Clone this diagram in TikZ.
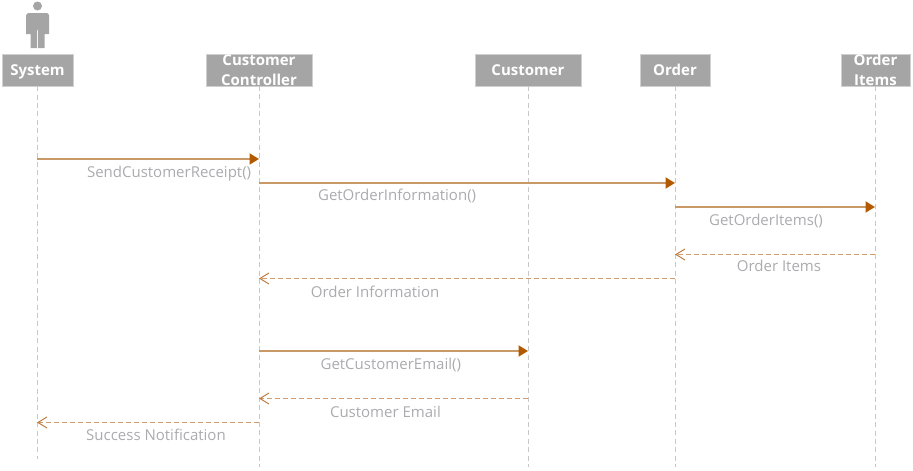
\documentclass[tikz,border=0pt]{standalone}
\usepackage{fontspec}
\setmainfont{Open Sans}
\usetikzlibrary{arrows.meta}
\definecolor{boxgray}{HTML}{A5A5A5}
\definecolor{boxedge}{HTML}{D0D0D0}
\definecolor{lifegray}{HTML}{C8C8C8}
\definecolor{textgray}{HTML}{ABABAF}
\definecolor{msgline}{HTML}{C99A68}
\definecolor{msgtip}{HTML}{B35A00}
\definecolor{msgdash}{HTML}{D19D6C}
\definecolor{msgbarb}{HTML}{C07C40}
\tikzset{
    objbox/.style={draw=boxedge, fill=boxgray, text=white, inner sep=0pt, minimum height=32pt,
        align=center, font=\fontsize{15}{19.5}\selectfont\bfseries},
    oneline/.style={text height=10pt, text depth=0pt},
    lifeline/.style={draw=lifegray, line width=1pt, dash pattern=on 5pt off 3.4pt},
    callmsg/.style={draw=msgline, line width=2pt, -{Triangle[length=9.5pt,width=11pt,color=msgtip]}},
    returnmsg/.style={draw=msgdash, line width=1pt, dash pattern=on 5pt off 3pt,
        -{Straight Barb[length=9pt,width=11pt,color=msgbarb,line width=1pt]}},
    msglabel/.style={text=textgray, anchor=base, yshift=-18pt, inner sep=0pt,
        font=\fontsize{15}{16}\selectfont},
}
\begin{document}
\begin{tikzpicture}[x=1pt, y=1pt]
            \useasboundingbox (0, 0) rectangle (913, -471);

            % Actor
            \fill[boxgray] (37.5, -6) circle (4.5);
            \fill[boxgray] (26, -15) -- (28, -13) -- (47, -13) -- (49, -15) -- (49, -34) -- (44.7, -34)
                -- (44.7, -48) -- (38, -48) -- (38, -30) -- (37, -30) -- (37, -48) -- (30.7, -48)
                -- (30.7, -34) -- (26, -34) -- cycle;

            % Nodes
            \node[objbox, oneline, minimum width=71pt] (System) at (37.5, -70) {System};
            \node[objbox, minimum width=106pt] (CustomerController) at (259, -70) {Customer\\Controller};
            \node[objbox, oneline, minimum width=106pt] (Customer) at (528, -70) {Customer};
            \node[objbox, oneline, minimum width=70pt] (Order) at (675, -70) {Order};
            \node[objbox, minimum width=69pt] (OrderItems) at (875.5, -70) {Order\\Items};

            % Lifeline ends
            \coordinate (SystemEnd) at (37, -459);
            \coordinate (CustomerControllerEnd) at (259, -467);
            \coordinate (CustomerEnd) at (528, -467);
            \coordinate (OrderEnd) at (675, -467);
            \coordinate (OrderItemsEnd) at (875, -467);

            % Lifelines
            \draw[lifeline] (System.south -| SystemEnd) -- (SystemEnd);
            \draw[lifeline] (CustomerController) ++(0, -16) -- (CustomerControllerEnd);
            \draw[lifeline] (Customer) ++(0, -16) -- (CustomerEnd);
            \draw[lifeline] (Order) ++(0, -16) -- (OrderEnd);
            \draw[lifeline] (OrderItems.south -| OrderItemsEnd) -- (OrderItemsEnd);

            % Message ends
            \coordinate (SendFrom) at (37, -159);
            \coordinate (SendTo) at (259, -159);
            \coordinate (InfoFrom) at (259, -183);
            \coordinate (InfoTo) at (675, -183);
            \coordinate (ItemsFrom) at (675, -207);
            \coordinate (ItemsTo) at (875, -207);
            \coordinate (ItemsBackFrom) at (875, -254.5);
            \coordinate (ItemsBackTo) at (675, -254.5);
            \coordinate (InfoBackFrom) at (675, -278.5);
            \coordinate (InfoBackTo) at (259, -278.5);
            \coordinate (EmailFrom) at (259, -351);
            \coordinate (EmailTo) at (528, -351);
            \coordinate (EmailBackFrom) at (528, -398.5);
            \coordinate (EmailBackTo) at (259, -398.5);
            \coordinate (DoneFrom) at (259, -422.5);
            \coordinate (DoneTo) at (37, -422.5);

            % Arrows
            \draw[callmsg] (SendFrom) -- node[msglabel, pos=0.595] {SendCustomerReceipt()} (SendTo);
            \draw[callmsg] (InfoFrom) -- node[msglabel, pos=0.332, yshift=1pt] {GetOrderInformation()} (InfoTo);
            \draw[callmsg] (ItemsFrom) -- node[msglabel, pos=0.455] {GetOrderItems()} (ItemsTo);
            \draw[returnmsg] (ItemsBackFrom) -- node[msglabel, pos=0.48, yshift=1pt] {Order Items} (ItemsBackTo);
            \draw[returnmsg] (InfoBackFrom) -- node[msglabel, pos=0.721, yshift=-1pt] {Order Information} (InfoBackTo);
            \draw[callmsg] (EmailFrom) -- node[msglabel, pos=0.49] {GetCustomerEmail()} (EmailTo);
            \draw[returnmsg] (EmailBackFrom) -- node[msglabel, pos=0.53, yshift=-1pt] {Customer Email} (EmailBackTo);
            \draw[returnmsg] (DoneFrom) -- node[msglabel, pos=0.464] {Success Notification} (DoneTo);
        \end{tikzpicture}
\end{document}
